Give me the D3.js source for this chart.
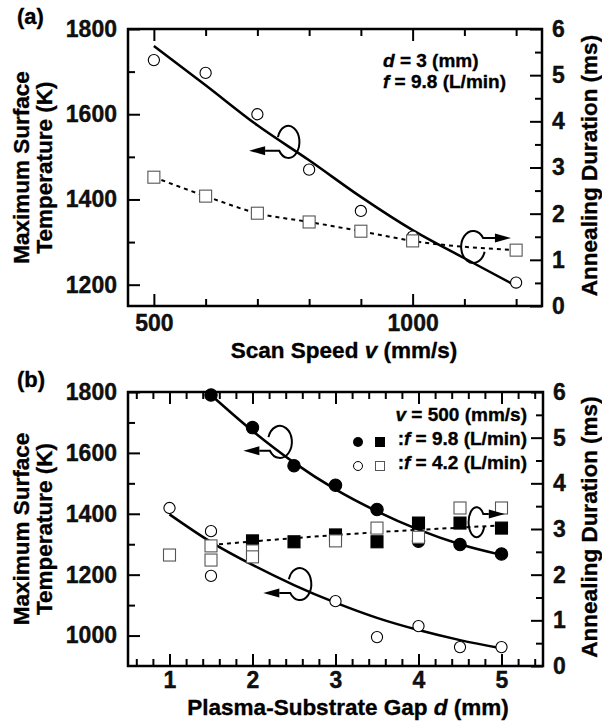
<!DOCTYPE html>
<html>
<head>
<meta charset="utf-8">
<script src="https://cdn.jsdelivr.net/npm/d3@7"></script>
<style>
  body { margin: 0; background: #fff; }
  svg { display: block; font-family: "Liberation Sans", Arial, sans-serif; font-weight: bold; }
  text { stroke: #000; stroke-width: 0.35px; }
</style>
</head>
<body>
<svg id="chart" width="602" height="726"></svg>
<script>
// (a) scan speed series, d = 3 mm, f = 9.8 L/min
const speedA = [500, 600, 700, 800, 900, 1000, 1200];
const tempA = [1727, 1697, 1600, 1470, 1373, 1313, 1205];
const durA = [2.79, 2.38, 2.01, 1.82, 1.62, 1.41, 1.21];
const fitSpeedA = [500, 600, 700, 800, 900, 1000, 1100, 1200];
const fitTempA = [1760, 1668, 1574, 1492, 1406, 1328, 1262, 1197];

// (b) gap series, v = 500 mm/s
const gapHi = [1.5, 2, 2.5, 3, 3.5, 4, 4.5, 5];          // f = 9.8
const tempHi = [1790, 1683, 1558, 1494, 1414, 1310, 1299, 1268];
const fitTempHi = [1790, 1672, 1568, 1480, 1408, 1348, 1300, 1265];
const gapLo = [1, 1.5, 1.5, 2, 3, 3.5, 4, 4.5, 5];        // f = 4.2
const tempLo = [1419, 1343, 1196, 1288, 1113, 995, 1031, 962, 962];
const fitGapLo = [1, 1.5, 2, 2.5, 3, 3.5, 4, 4.5, 5];
const fitTempLo = [1398, 1307, 1232, 1166, 1108, 1058, 1018, 985, 958];
const durGapHi = [2, 2.5, 3, 3.5, 4, 4.5, 5];
const durHi = [2.74, 2.72, 2.87, 2.72, 3.13, 3.13, 3.02];
const durGapLo = [1, 1.5, 1.5, 2, 2, 3, 3.5, 4, 4.5, 5];
const durLo = [2.43, 2.63, 2.32, 2.52, 2.39, 2.74, 3.02, 2.82, 3.46, 3.46];
const fitGapDur = [1.5, 2.5, 3.5, 4.5, 5];
const fitDur = [2.65, 2.80, 2.93, 3.03, 3.08];

// tick labels
const xMajorA = [500, 1000], xMinorA = [600, 700, 800, 900, 1100, 1200];
const yMajorA = [1200, 1400, 1600, 1800], yMinorA = [1300, 1500, 1700];
const xMajorB = [1, 2, 3, 4, 5];
const xMinorB = d3.range(3, 28).map(i => i / 5).filter(v => v % 1 !== 0);
const yMajorB = [1000, 1200, 1400, 1600, 1800], yMinorB = [1100, 1300, 1500, 1700];
const durMajor = [0, 1, 2, 3, 4, 5, 6], durMinor = [0.5, 1.5, 2.5, 3.5, 4.5, 5.5];

const svg = d3.select('#chart');
const zip = (xs, ys) => xs.map((x, i) => [x, ys[i]]);

function tickSet(g, axis, values, size, tr, fmt, pad) {
  const sel = g.append('g')
    .attr('transform', tr)
    .call(axis.tickValues(values).tickSize(-size).tickSizeOuter(0)
      .tickPadding(pad || 0).tickFormat(fmt || (() => '')));
  sel.attr('font-size', 23).attr('font-family', null);
  sel.select('.domain').remove();
  sel.selectAll('line').attr('stroke-width', 2);
  sel.selectAll('text').attr('fill', '#111');
}

function curl(g, cx, cy, tipX, rx, ry, s) {
  // s = -1 arrow points left, +1 points right
  const a = rx * Math.sqrt(1 - 0.09), b = rx * Math.sqrt(1 - 0.3025);
  const y0 = cy + s * 0.3 * ry, y1 = cy - s * 0.55 * ry;
  const x0 = cx + s * a, x1 = cx + s * b, head = 16;
  g.append('path')
    .attr('d', `M${x0},${y0} A${rx},${ry} 0 1 1 ${x1},${y1} L${tipX - s * head},${y1}`)
    .attr('fill', 'none').attr('stroke', '#000').attr('stroke-width', 2);
  g.append('path')
    .attr('d', `M${tipX},${y1} L${tipX - s * head},${y1 - 4.5} L${tipX - s * head},${y1 + 4.5}Z`)
    .attr('fill', '#000');
}

function panel(o) {
  const g = svg.append('g');
  const x = d3.scaleLinear(o.xDomain, o.xRange);
  const y = d3.scaleLinear(o.yDomain, o.yRange);
  const y2 = d3.scaleLinear([0, 6], o.yRange);
  const [x0, x1] = o.xRange, [yb, yt] = o.yRange;
  const fmt = d3.format('d');

  // ticks on all four sides, pointing inward
  tickSet(g, d3.axisBottom(x), o.xMajor, 12, `translate(0,${yb})`, fmt, o.xPad);
  tickSet(g, d3.axisBottom(x), o.xMinor, 7, `translate(0,${yb})`);
  tickSet(g, d3.axisTop(x), o.xMajor, 12, `translate(0,${yt})`);
  tickSet(g, d3.axisTop(x), o.xMinor, 7, `translate(0,${yt})`);
  tickSet(g, d3.axisLeft(y), o.yMajor, 12, `translate(${x0},0)`, fmt, 11);
  tickSet(g, d3.axisLeft(y), o.yMinor, 7, `translate(${x0},0)`);
  tickSet(g, d3.axisRight(y2), durMajor, 12, `translate(${x1},0)`, fmt, 10);
  tickSet(g, d3.axisRight(y2), durMinor, 7, `translate(${x1},0)`);

  g.append('rect')
    .attr('x', x0).attr('y', yt).attr('width', x1 - x0).attr('height', yb - yt)
    .attr('fill', 'none').attr('stroke', '#000').attr('stroke-width', 2.5);

  // lines
  const lineL = d3.line().x(d => x(d[0])).y(d => y(d[1])).curve(d3.curveMonotoneX);
  const lineR = d3.line().x(d => x(d[0])).y(d => y2(d[1])).curve(d3.curveMonotoneX);
  o.solid.forEach(pts => g.append('path').attr('d', lineL(pts))
    .attr('fill', 'none').attr('stroke', '#000').attr('stroke-width', 2.5));
  g.append('path').attr('d', lineR(o.dotted))
    .attr('fill', 'none').attr('stroke', '#000').attr('stroke-width', 2)
    .attr('stroke-dasharray', '4,4');

  // circles (temperature) under squares (duration)
  o.circles.forEach(c => g.append('g').selectAll('circle')
    .data(c.pts).join('circle')
      .attr('cx', d => x(d[0])).attr('cy', d => y(d[1]))
      .attr('r', c.filled ? 6.2 : 5.6)
      .attr('fill', c.filled ? '#000' : '#fff')
      .attr('stroke', '#000').attr('stroke-width', 1.1));
  o.squares.forEach(c => g.append('g').selectAll('rect')
    .data(c.pts).join('rect')
      .attr('x', d => x(d[0]) - 6).attr('y', d => y2(d[1]) - 6)
      .attr('width', 12).attr('height', 12)
      .attr('fill', c.filled ? '#000' : '#fff')
      .attr('stroke', c.filled ? '#000' : '#555').attr('stroke-width', 1.1));

  o.arrows.forEach(a => {
    const sc = a.axis === 'left' ? y : y2;
    curl(g, x(a.x), sc(a.y), x(a.tip), a.rx, a.ry, a.dir);
  });

  // labels
  g.append('text').attr('x', 17).attr('y', yt - 5).attr('font-size', 22).text(o.tag);
  const xt = g.append('text').attr('x', o.xTitleX).attr('y', o.xTitleY)
    .attr('text-anchor', 'middle').attr('font-size', 22.5);
  xt.append('tspan').text(o.xTitle[0]);
  xt.append('tspan').attr('font-style', 'italic').text(o.xTitle[1]);
  xt.append('tspan').text(o.xTitle[2]);

  const cy = (yb + yt) / 2;
  ['Maximum Surface', 'Temperature (K)'].forEach((t, i) => g.append('text')
    .attr('transform', `translate(${29 + i * 23},${cy}) rotate(-90)`)
    .attr('text-anchor', 'middle').attr('font-size', 22.5).text(t));
  g.append('text')
    .attr('transform', `translate(597,${cy - 2}) rotate(-90)`)
    .attr('text-anchor', 'middle').attr('font-size', 22.5).text('Annealing Duration (ms)');

  o.note(g);
}

function richText(g, xp, yp, anchor, parts) {
  const t = g.append('text').attr('x', xp).attr('y', yp)
    .attr('text-anchor', anchor).attr('font-size', 19);
  parts.forEach((p, i) => t.append('tspan')
    .attr('font-style', i % 2 ? 'italic' : 'normal').text(p));
}

panel({
  tag: '(a)',
  xDomain: [450, 1250], xRange: [128, 542],
  yDomain: [1150, 1800], yRange: [306, 29],
  xMajor: xMajorA, xMinor: xMinorA, yMajor: yMajorA, yMinor: yMinorA, xPad: 9,
  solid: [zip(fitSpeedA, fitTempA)],
  dotted: zip(speedA, durA),
  circles: [{ filled: false, pts: zip(speedA, tempA) }],
  squares: [{ filled: false, pts: zip(speedA, durA) }],
  arrows: [
    { x: 760, y: 1535, tip: 684, dir: -1, rx: 11, ry: 16, axis: 'left' },
    { x: 1117, y: 1.28, tip: 1190, dir: 1, rx: 12, ry: 16, axis: 'right' }
  ],
  xTitle: ['Scan Speed ', 'v', ' (mm/s)'], xTitleX: 344, xTitleY: 358,
  note: g => {
    richText(g, 383, 67, 'start', ['', 'd', ' = 3 (mm)']);
    richText(g, 383, 88, 'start', ['', 'f', ' = 9.8 (L/min)']);
  }
});

panel({
  tag: '(b)',
  xDomain: [0.5, 5.5], xRange: [128, 543],
  yDomain: [900, 1800], yRange: [666, 392],
  xMajor: xMajorB, xMinor: xMinorB, yMajor: yMajorB, yMinor: yMinorB, xPad: 6,
  solid: [zip(gapHi, fitTempHi), zip(fitGapLo, fitTempLo)],
  dotted: zip(fitGapDur, fitDur),
  circles: [{ filled: true, pts: zip(gapHi, tempHi) }, { filled: false, pts: zip(gapLo, tempLo) }],
  squares: [{ filled: true, pts: zip(durGapHi, durHi) }, { filled: false, pts: zip(durGapLo, durLo) }],
  arrows: [
    { x: 2.33, y: 1636, tip: 1.89, dir: -1, rx: 12, ry: 16, axis: 'left' },
    { x: 2.57, y: 1169, tip: 2.13, dir: -1, rx: 11.5, ry: 16, axis: 'left' },
    { x: 4.70, y: 3.15, tip: 5.04, dir: 1, rx: 8, ry: 15, axis: 'right' }
  ],
  xTitle: ['Plasma-Substrate Gap ', 'd', ' (mm)'], xTitleX: 348, xTitleY: 715,
  note: g => {
    richText(g, 527, 421, 'end', ['', 'v', ' = 500 (mm/s)']);
    richText(g, 527, 445, 'end', [':', 'f', ' = 9.8 (L/min)']);
    richText(g, 527, 469, 'end', [':', 'f', ' = 4.2 (L/min)']);
    g.append('circle').attr('cx', 358).attr('cy', 442).attr('r', 5).attr('fill', '#000');
    g.append('rect').attr('x', 375).attr('y', 437).attr('width', 10).attr('height', 10).attr('fill', '#000');
    g.append('circle').attr('cx', 358).attr('cy', 466).attr('r', 4.5)
      .attr('fill', '#fff').attr('stroke', '#000').attr('stroke-width', 1);
    g.append('rect').attr('x', 375.5).attr('y', 461.5).attr('width', 9).attr('height', 9)
      .attr('fill', '#fff').attr('stroke', '#555').attr('stroke-width', 1);
  }
});
</script>
</body>
</html>
